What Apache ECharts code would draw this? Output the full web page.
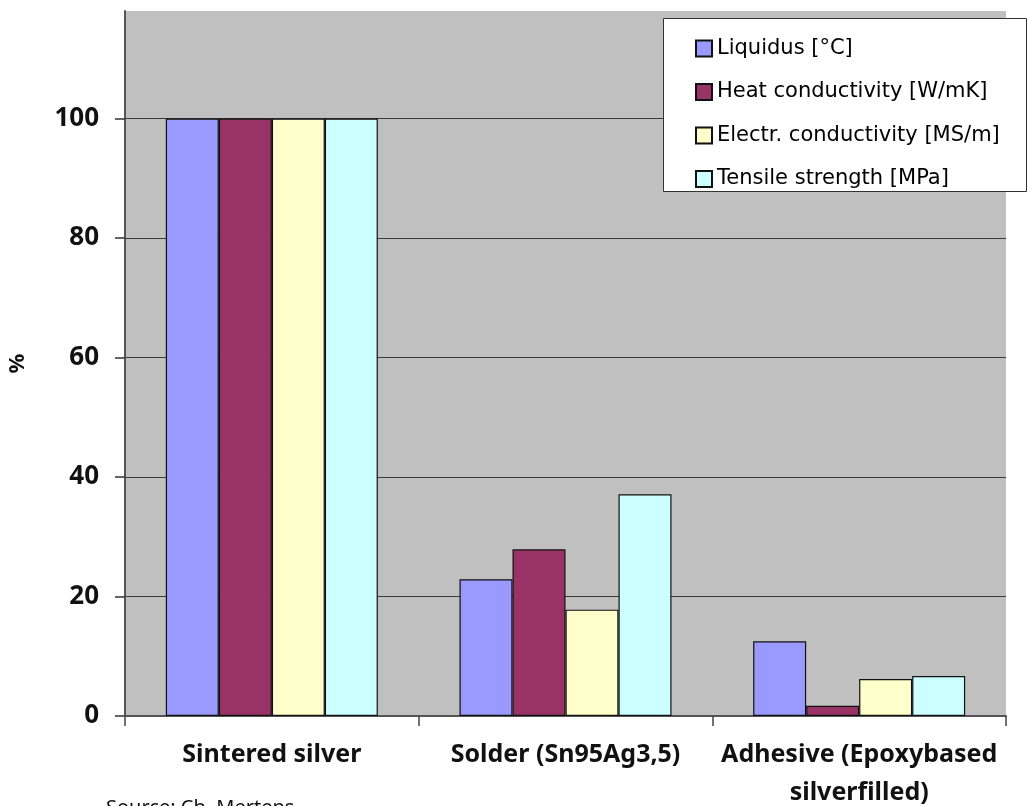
<!DOCTYPE html>
<html>
<head>
<meta charset="utf-8">
<script src="https://cdn.jsdelivr.net/npm/echarts@6/dist/echarts.min.js"></script>
<style>
html,body{margin:0;padding:0;background:#fff;}
#chart{width:1027px;height:806px;}
</style>
</head>
<body>
<div id="chart"></div>
<script>
const categories = ['Sintered silver', 'Solder (Sn95Ag3,5)', 'Adhesive (Epoxybased\nsilverfilled)'];
const seriesNames = ['Liquidus [°C]', 'Heat conductivity [W/mK]', 'Electr. conductivity [MS/m]', 'Tensile strength [MPa]'];
const liquidus = [100, 22.9, 12.5];
const heatCond = [100, 27.9, 1.7];
const electrCond = [100, 17.8, 6.2];
const tensile = [100, 37.1, 6.7];
const seriesColors = ['#9999FF', '#993366', '#FFFFCC', '#CCFFFF'];
const yAxisTitle = '%';
const sourceText = 'Source: Ch. Mertens';

const seriesData = [liquidus, heatCond, electrCond, tensile];

const chart = echarts.init(document.getElementById('chart'), null, {renderer: 'canvas'});
const option = {
  animation: false,
  backgroundColor: '#ffffff',
  grid: {
    left: 125, right: 21, top: 11, bottom: 90,
    containLabel: false, outerBoundsMode: 'none',
    show: true, backgroundColor: '#C0C0C0', borderWidth: 0
  },
  legend: {
    orient: 'vertical',
    left: 690, top: 33,
    itemWidth: 16, itemHeight: 16, itemGap: 22.5,
    icon: 'rect',
    z: 10,
    textStyle: {fontFamily: 'DejaVu Sans', fontSize: 21, color: '#000', lineHeight: 20},
    data: seriesNames
  },
  xAxis: {
    type: 'category',
    data: categories,
    axisLine: {lineStyle: {color: '#555', width: 2}},
    axisTick: {show: true, length: 10, lineStyle: {color: '#444', width: 1.5}},
    axisLabel: {
      interval: 0, margin: 20, color: '#111',
      fontFamily: 'Noto Sans', fontWeight: 'bold', fontSize: 25,
      lineHeight: 38, verticalAlign: 'top'
    }
  },
  yAxis: {
    type: 'value',
    min: 0, max: 118, interval: 20,
    name: yAxisTitle,
    nameLocation: 'middle', nameRotate: 90, nameGap: 96,
    nameTextStyle: {fontFamily: 'Noto Sans', fontWeight: 'bold', fontSize: 22, color: '#111'},
    axisLine: {show: true, lineStyle: {color: '#555', width: 2}},
    axisTick: {show: true, length: 10, lineStyle: {color: '#333', width: 1.5}},
    axisLabel: {
      showMaxLabel: false, margin: 26, color: '#111',
      fontFamily: 'Noto Sans', fontWeight: 'bold', fontSize: 26,
      formatter: function (v) { return v > 100 ? '' : String(v); }
    },
    splitLine: {show: true, showMaxLine: false, lineStyle: {color: '#3a3a3a', width: 1.2}}
  },
  graphic: [
    {
      type: 'rect', z: 5,
      shape: {x: 663.5, y: 18.5, width: 363, height: 173},
      style: {fill: '#ffffff', stroke: '#333', lineWidth: 1}
    },
    {
      type: 'text', z: 5, left: 106, top: 798,
      style: {text: sourceText, fontFamily: 'Noto Sans', fontSize: 20, fill: '#111'}
    }
  ],
  series: seriesNames.map(function (name, i) {
    return {
      name: name,
      type: 'bar',
      data: seriesData[i],
      barWidth: 53,
      barGap: '0%',
      itemStyle: {color: seriesColors[i], borderColor: '#111', borderWidth: 1.2}
    };
  })
};
chart.setOption(option);
</script>
</body>
</html>
